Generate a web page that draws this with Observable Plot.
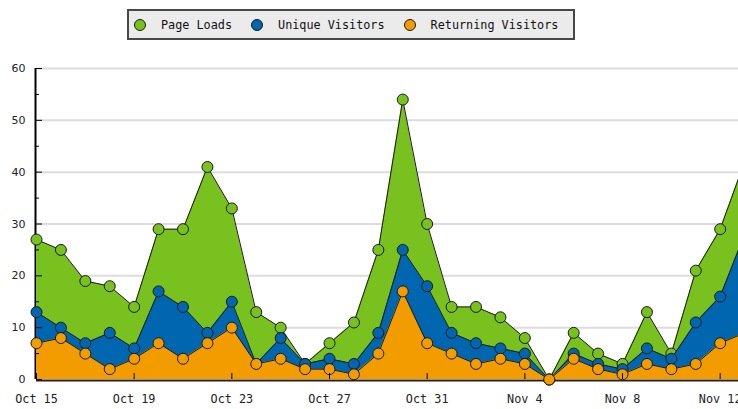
<!DOCTYPE html>
<html><head><meta charset="utf-8">
<script src="https://cdn.jsdelivr.net/npm/d3@7"></script>
<script src="https://cdn.jsdelivr.net/npm/@observablehq/plot@0.6"></script>
<style>
html,body{margin:0;padding:0;background:#fff;overflow:hidden;width:738px;height:409px}
#wrap{position:relative;width:738px;height:409px}
#legend{position:absolute;left:127px;top:9px;width:448px;height:31px;box-sizing:border-box;border:2px solid #474747;background:#ebebeb;display:flex;align-items:center;font-family:"DejaVu Sans Mono",monospace;font-size:11.8px;color:#111;padding-left:5px}
.sw{width:10px;height:10px;border-radius:50%;border:1px solid #1a1a1a;margin-right:15px;flex:none}
.item{display:flex;align-items:center;margin-right:19px;white-space:pre}
</style></head><body><div id="wrap"><div id="chart"></div><div id="legend"></div></div>
<script>
const dates = ["2011-10-15","2011-10-16","2011-10-17","2011-10-18","2011-10-19","2011-10-20","2011-10-21","2011-10-22","2011-10-23","2011-10-24",
  "2011-10-25","2011-10-26","2011-10-27","2011-10-28","2011-10-29","2011-10-30","2011-10-31","2011-11-01","2011-11-02","2011-11-03",
  "2011-11-04","2011-11-05","2011-11-06","2011-11-07","2011-11-08","2011-11-09","2011-11-10","2011-11-11","2011-11-12","2011-11-13"];
const pageLoads = [27,25,19,18,14,29,29,41,33,13,10,3,7,11,25,54,30,14,14,12,8,0,9,5,3,13,5,21,29,42];
const uniqueVisitors = [13,10,7,9,6,17,14,9,15,3,8,3,4,3,9,25,18,9,7,6,5,0,5,3,2,6,4,11,16,28];
const returningVisitors = [7,8,5,2,4,7,4,7,10,3,4,2,2,1,5,17,7,5,3,4,3,0,4,2,1,3,2,3,7,9];
const seriesNames = ["Page Loads","Unique Visitors","Returning Visitors"];
const seriesColors = ["#78c11f","#0066b0","#f29c00"];
const yTicks = [0,10,20,30,40,50,60];
const yMinorTicks = [5,15,25,35,45,55];
const xTickDates = ["2011-10-15","2011-10-19","2011-10-23","2011-10-27","2011-10-31","2011-11-04","2011-11-08","2011-11-12"];

const parse = d3.utcParse("%Y-%m-%d");
const seriesValues = [pageLoads, uniqueVisitors, returningVisitors];
const series = seriesNames.map((name, k) => ({
  name, color: seriesColors[k],
  rows: dates.map((d, i) => ({date: parse(d), value: seriesValues[k][i], series: name}))
}));
const x0 = parse(dates[0]);
const xEnd = d3.utcHour.offset(parse(dates[28]), 18);
const xTicks = xTickDates.map(parse);
const ink = "#1a1a1a";

const chart = Plot.plot({
  width: 738, height: 409,
  marginLeft: 36, marginRight: 0, marginTop: 68, marginBottom: 30,
  style: {fontFamily: "DejaVu Sans", fontSize: "11px", color: "#222", background: "#fff"},
  x: {type: "utc", domain: [x0, xEnd], label: null},
  y: {domain: [0, 60], label: null},
  marks: [
    Plot.gridY(yTicks.slice(1), {stroke: "#dcdcdc", strokeOpacity: 1, strokeWidth: 2}),
    Plot.ruleX([x0], {stroke: "#000", strokeWidth: 2, dx: -1}),
    Plot.ruleY([0], {stroke: "#2a1f10", strokeWidth: 2, dy: 1}),
    ...series.flatMap(s => [
      Plot.areaY(s.rows, {x: "date", y: "value", fill: s.color, fillOpacity: 1}),
      Plot.lineY(s.rows, {x: "date", y: "value", stroke: ink, strokeWidth: 1}),
      Plot.dot(s.rows, {x: "date", y: "value", r: 5.5, fill: s.color, stroke: ink, strokeWidth: 1})
    ]),
    Plot.axisY({ticks: yTicks, label: null, tickSize: 0, tickPadding: 11, fontFamily: "DejaVu Sans", fontSize: 11, fill: "#222"}),
    Plot.axisY({ticks: yTicks, label: null, tickSize: -6, tickFormat: () => null, stroke: "#000"}),
    Plot.axisY({ticks: yMinorTicks, label: null, tickSize: -3, tickFormat: () => null, stroke: "#000"}),
    Plot.axisX({ticks: xTicks, label: null, tickSize: 0, tickPadding: 15, tickFormat: d3.utcFormat("%b %-d"), fontFamily: "DejaVu Sans Mono", fontSize: 11.8, fill: "#222"}),
    Plot.axisX({ticks: xTicks, label: null, tickSize: -6, tickFormat: () => null, stroke: "#000"})
  ]
});
document.getElementById("chart").appendChild(chart);

const legend = document.getElementById("legend");
series.forEach(s => {
  const item = document.createElement("div");
  item.className = "item";
  const sw = document.createElement("span");
  sw.className = "sw";
  sw.style.background = s.color;
  const label = document.createElement("span");
  label.textContent = s.name;
  item.appendChild(sw); item.appendChild(label);
  legend.appendChild(item);
});
</script></body></html>
